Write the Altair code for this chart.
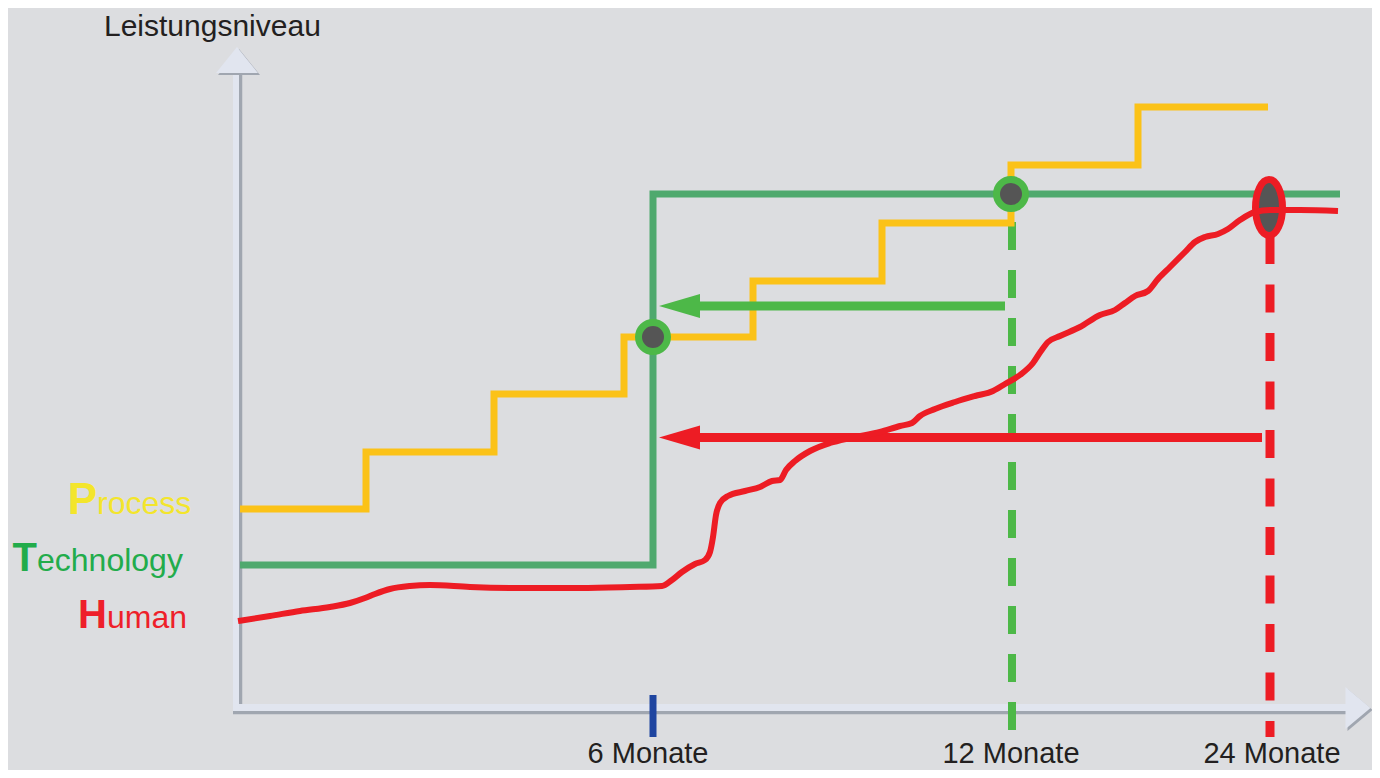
import altair as alt
import pandas as pd

# Coordinate frame of the drawing (horizontal position, vertical position measured downward)
X_DOMAIN = [8, 1372]
Y_DOMAIN = [770, 8]

# Process (stepwise improvement)
process_x = [240, 366, 494, 624, 753, 882, 1011, 1138, 1268]
process_y = [509, 452, 394, 337, 281, 223, 165, 107, 107]

# Technology (one big jump at 6 months)
tech_x = [240, 653, 1340]
tech_y = [565, 194, 194]

# Human (slow S-curve)
human_x = [238, 270, 300, 330, 350, 365, 375, 390, 410, 430, 470, 520, 580, 630, 662,
           672, 682, 695, 705, 710, 713, 716, 720, 728, 745, 760, 772, 780, 786, 795,
           810, 830, 850, 880, 900, 912, 920, 935, 955, 975, 993, 1005, 1020, 1033,
           1041, 1048, 1060, 1080, 1100, 1115, 1125, 1135, 1148, 1158, 1170, 1185,
           1195, 1205, 1218, 1228, 1240, 1255, 1270, 1300, 1338]
human_y = [621, 616, 611, 607, 603, 598, 594, 589, 586, 585, 587, 588, 588, 587, 586,
           580, 572, 564, 560, 552, 537, 515, 503, 496, 491, 487, 481, 480, 470, 461,
           451, 443, 438, 432, 426, 423, 416, 409, 402, 396, 391, 384, 375, 363,
           351, 342, 336, 327, 315, 310, 303, 296, 291, 279, 267, 252,
           242, 237, 234, 229, 220, 212, 210, 210, 211]

# Milestones on the time axis
milestone_labels = ["6 Monate", "12 Monate", "24 Monate"]
milestone_x = [648, 1011, 1272]

# Legend words
legend_initials = ["P", "T", "H"]
legend_rest = ["rocess", "echnology", "uman"]
legend_x = [97, 37, 107]
legend_y = [514, 571, 628]
legend_colors = ["#f3e52c", "#22ac4b", "#ee1f2a"]

# Colours
BG = "#dcdde0"
AXIS_LIGHT = "#e1e5ef"
AXIS_DARK = "#a0a6b0"
PROC = "#fbc218"
TECH = "#4fa96e"
GREEN = "#4db848"
RED = "#ed1c24"
FONT = "Liberation Sans"

xs = alt.Scale(domain=X_DOMAIN, nice=False, zero=False)
ys = alt.Scale(domain=Y_DOMAIN, nice=False, zero=False)


def X(f="x"):
    return alt.X(f"{f}:Q", scale=xs, axis=None)


def Y(f="y"):
    return alt.Y(f"{f}:Q", scale=ys, axis=None)


layers = []

# ---- axes (shadow + light band + arrow heads)
vaxis = pd.DataFrame({"x": [240.5, 236], "y": [73, 73], "y2": [714, 711],
                      "c": [AXIS_DARK, AXIS_LIGHT], "w": [3.5, 6]})
haxis = pd.DataFrame({"y": [712.5, 707.5], "x": [233, 233], "x2": [1347, 1347],
                      "c": [AXIS_DARK, AXIS_LIGHT], "w": [3.5, 7]})
for _, r in vaxis.iterrows():
    layers.append(alt.Chart(pd.DataFrame([r])).mark_rule(color=r["c"], strokeWidth=float(r["w"]), strokeCap="butt")
                  .encode(x=X(), y=Y(), y2="y2:Q"))
for _, r in haxis.iterrows():
    layers.append(alt.Chart(pd.DataFrame([r])).mark_rule(color=r["c"], strokeWidth=float(r["w"]), strokeCap="butt")
                  .encode(x=X(), x2="x2:Q", y=Y()))

UP = "M0,-1L1.615,1L-1.615,1Z"
RIGHT = "M1,0L-1,-1.68L-1,1.68Z"
heads = pd.DataFrame({"x": [239, 237, 1360, 1358], "y": [62, 60, 710, 708],
                      "c": [AXIS_DARK, AXIS_LIGHT, AXIS_DARK, AXIS_LIGHT],
                      "s": [UP, UP, RIGHT, RIGHT], "z": [676, 676, 625, 625]})
for _, r in heads.iterrows():
    layers.append(alt.Chart(pd.DataFrame([r])).mark_point(shape=r["s"], size=float(r["z"]), filled=True,
                                                          opacity=1, color=r["c"], strokeWidth=0)
                  .encode(x=X(), y=Y()))

# blue 6-month tick
layers.append(alt.Chart(pd.DataFrame({"x": [653], "y": [695], "y2": [737]}))
              .mark_rule(color="#1f45a0", strokeWidth=7, strokeCap="butt")
              .encode(x=X(), y=Y(), y2="y2:Q"))

# ---- dashed milestone lines
layers.append(alt.Chart(pd.DataFrame({"x": [1012], "y": [222], "y2": [737]}))
              .mark_rule(color=GREEN, strokeWidth=8, strokeDash=[28, 20], strokeCap="butt")
              .encode(x=X(), y=Y(), y2="y2:Q"))
layers.append(alt.Chart(pd.DataFrame({"x": [1270], "y": [236], "y2": [737]}))
              .mark_rule(color=RED, strokeWidth=9, strokeDash=[28, 20.5], strokeCap="butt")
              .encode(x=X(), y=Y(), y2="y2:Q"))

# ---- process & technology step lines
layers.append(alt.Chart(pd.DataFrame({"x": process_x, "y": process_y}))
              .mark_line(color=PROC, strokeWidth=7, interpolate="step-after", strokeCap="butt")
              .encode(x=X(), y=Y()))
layers.append(alt.Chart(pd.DataFrame({"x": tech_x, "y": tech_y}))
              .mark_line(color=TECH, strokeWidth=7, interpolate="step-after", strokeCap="butt")
              .encode(x=X(), y=Y()))

# ---- arrows back to 6 months
arrows = pd.DataFrame({"x": [697, 697], "x2": [1005, 1262], "y": [306, 437.5], "c": [GREEN, RED]})
for _, r in arrows.iterrows():
    layers.append(alt.Chart(pd.DataFrame([r])).mark_rule(color=r["c"], strokeWidth=9, strokeCap="butt")
                  .encode(x=X(), x2="x2:Q", y=Y()))
    layers.append(alt.Chart(pd.DataFrame({"x": [679.5], "y": [r["y"]]}))
                  .mark_point(shape="M-1,0L1,-0.585L1,0.585Z", size=1681, filled=True, opacity=1,
                              color=r["c"], strokeWidth=0)
                  .encode(x=X(), y=Y()))

# ---- red ellipse marker at 24 months
layers.append(alt.Chart(pd.DataFrame({"x": [1269], "y": [207.5]}))
              .mark_point(shape="M0,-1A0.482,1 0 1,1 0,1A0.482,1 0 1,1 0,-1Z", size=3136, filled=False,
                          opacity=1, fill="#555555", fillOpacity=1, stroke=RED, strokeWidth=7)
              .encode(x=X(), y=Y()))

# ---- human curve
layers.append(alt.Chart(pd.DataFrame({"x": human_x, "y": human_y}))
              .mark_line(color=RED, strokeWidth=6, interpolate="monotone", strokeCap="butt")
              .encode(x=X(), y=Y()))

# ---- green circle markers
layers.append(alt.Chart(pd.DataFrame({"x": [653, 1011], "y": [337, 194]}))
              .mark_point(shape="circle", size=841, filled=False, opacity=1, fill="#555555",
                          fillOpacity=1, stroke=GREEN, strokeWidth=7)
              .encode(x=X(), y=Y()))

# ---- texts
layers.append(alt.Chart(pd.DataFrame({"x": [104], "y": [36], "t": ["Leistungsniveau"]}))
              .mark_text(font=FONT, fontSize=30, color="#231f20", align="left", baseline="alphabetic")
              .encode(x=X(), y=Y(), text="t:N"))
layers.append(alt.Chart(pd.DataFrame({"x": milestone_x, "y": [763] * 3, "t": milestone_labels}))
              .mark_text(font=FONT, fontSize=29, color="#231f20", align="center", baseline="alphabetic")
              .encode(x=X(), y=Y(), text="t:N"))

leg = pd.DataFrame({"x": legend_x, "y": legend_y, "i": legend_initials, "r": legend_rest,
                    "c": legend_colors, "fs": [44, 40, 40]})
layers.append(alt.Chart(leg).mark_text(font=FONT, fontWeight="bold", align="right", baseline="alphabetic")
              .encode(x=X(), y=Y(), text="i:N",
                      color=alt.Color("c:N", scale=None, legend=None),
                      size=alt.Size("fs:Q", scale=None, legend=None)))
layers.append(alt.Chart(leg).mark_text(font=FONT, fontSize=32, align="left", baseline="alphabetic")
              .encode(x=X(), y=Y(), text="r:N",
                      color=alt.Color("c:N", scale=None, legend=None)))

chart = alt.layer(*layers).properties(
    width=1364, height=762, background=BG, padding=0,
    autosize=alt.AutoSizeParams(type="none"),
).configure_view(stroke=None)

chart.save("out.html", embed_options={"renderer": "svg", "actions": False})
